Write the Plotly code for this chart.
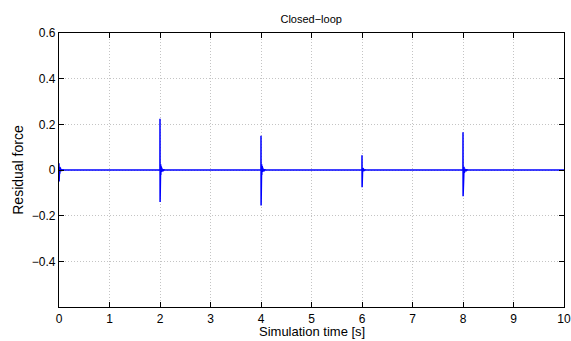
import plotly.graph_objects as go

# Event times (s) at which disturbances occur
event_times = [0.0, 2.0, 4.0, 6.0, 8.0]
# Sample offsets after each event (s)
offsets = [0.000, 0.002, 0.004, 0.006, 0.008, 0.010, 0.013, 0.016, 0.020, 0.025,
           0.030, 0.036, 0.043, 0.050, 0.060, 0.070, 0.085, 0.100]
# Residual force samples after each event
resid_e0 = [0.03, -0.05, 0.025, -0.035, 0.018, -0.025, 0.014, -0.016, 0.010, -0.010,
            0.007, -0.006, 0.004, -0.003, 0.002, -0.001, 0.0005, 0.0]
resid_e2 = [0.225, -0.14, 0.045, -0.05, 0.035, -0.035, 0.025, -0.022, 0.015, -0.014,
            0.010, -0.008, 0.006, -0.004, 0.003, -0.002, 0.001, 0.0]
resid_e4 = [0.15, -0.155, 0.045, -0.05, 0.035, -0.035, 0.025, -0.022, 0.016, -0.014,
            0.010, -0.008, 0.006, -0.004, 0.003, -0.002, 0.001, 0.0]
resid_e6 = [0.065, -0.075, 0.02, -0.025, 0.015, -0.015, 0.010, -0.009, 0.006, -0.005,
            0.004, -0.003, 0.002, -0.001, 0.001, -0.0005, 0.0, 0.0]
resid_e8 = [0.165, -0.115, 0.04, -0.045, 0.03, -0.03, 0.022, -0.02, 0.014, -0.012,
            0.009, -0.007, 0.005, -0.004, 0.003, -0.002, 0.001, 0.0]
event_resid = [resid_e0, resid_e2, resid_e4, resid_e6, resid_e8]

x_ticks = [0, 1, 2, 3, 4, 5, 6, 7, 8, 9, 10]
y_ticks = [-0.4, -0.2, 0, 0.2, 0.4, 0.6]

xs, ys = [], []
for t0, vals in zip(event_times, event_resid):
    if t0 > 0:
        xs.append(t0 - 0.001); ys.append(0.0)
    for dt, v in zip(offsets, vals):
        xs.append(t0 + dt); ys.append(v)
xs.append(10.0); ys.append(0.0)

fig = go.Figure()
fig.add_trace(go.Scatter(x=xs, y=ys, mode="lines",
                         line=dict(color="#0000ff", width=1.5), showlegend=False))

FONT = "Liberation Sans, Arial, sans-serif"
axis_common = dict(showline=True, linecolor="black", linewidth=1.2, mirror="ticks",
                   ticks="inside", ticklen=5, tickcolor="black", tickwidth=1,
                   showgrid=True, gridcolor="#c4c4c4", griddash="1px,2px", gridwidth=1,
                   zeroline=False,
                   tickfont=dict(family=FONT, size=12, color="black"))

fig.update_layout(
    width=571, height=341,
    margin=dict(l=59, r=7, t=33, b=34),
    paper_bgcolor="white", plot_bgcolor="white",
    title=dict(text="Closed\u2212loop", x=0.545, xanchor="center", y=0.945, yanchor="middle",
               font=dict(family=FONT, size=11, color="black")),
    xaxis=dict(range=[0, 10], tickvals=x_ticks, automargin=False, **axis_common),
    yaxis=dict(range=[-0.6, 0.6], tickvals=y_ticks, automargin=False,
               title=dict(text="Residual force", standoff=4,
                          font=dict(family=FONT, size=14, color="black")),
               **axis_common),
    annotations=[dict(text="Simulation time [s]", xref="paper", yref="paper",
                      x=0.5, y=-34 / 274, xanchor="center", yanchor="bottom",
                      showarrow=False, font=dict(family=FONT, size=13, color="black"))],
)

fig.write_html("out.html")
